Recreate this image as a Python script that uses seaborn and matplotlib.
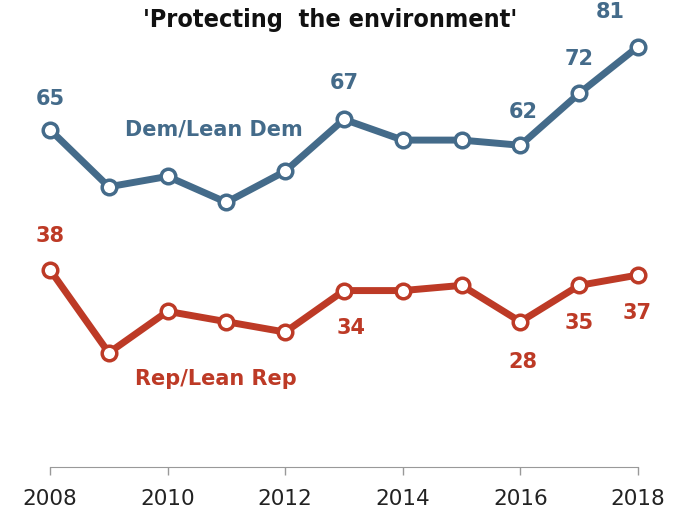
import pandas as pd
import matplotlib.pyplot as plt
import seaborn as sns

years = [2008, 2009, 2010, 2011, 2012, 2013, 2014, 2015, 2016, 2017, 2018]
dem = [65, 54, 56, 51, 57, 67, 63, 63, 62, 72, 81]
rep = [38, 22, 30, 28, 26, 34, 34, 35, 28, 35, 37]

dem_labels = {2008: '65', 2013: '67', 2016: '62', 2017: '72', 2018: '81'}
rep_labels = {2008: '38', 2013: '34', 2016: '28', 2017: '35', 2018: '37'}

DEM_COLOR = '#446b8a'
REP_COLOR = '#bd3a26'

df = pd.DataFrame({'year': years * 2,
                   'value': dem + rep,
                   'party': ['Dem'] * len(years) + ['Rep'] * len(years)})

sns.set_style('white')
plt.rcParams['font.family'] = ['DejaVu Sans']

fig = plt.figure(figsize=(6.79, 5.15), dpi=100)
ax = fig.add_axes([50 / 679, 48 / 515, 588 / 679, 467 / 515])

sns.lineplot(data=df, x='year', y='value', hue='party',
             palette={'Dem': DEM_COLOR, 'Rep': REP_COLOR},
             linewidth=5, marker='o', markersize=10.5, markerfacecolor='white',
             markeredgewidth=2.5, legend=False, ax=ax, clip_on=False)
for line, c in zip(ax.lines, [DEM_COLOR, REP_COLOR]):
    line.set_markeredgecolor(c)

ax.set_xlim(2008, 2018)
ax.set_ylim(0, 90)
ax.set_xlabel('')
ax.set_ylabel('')
ax.set_yticks([])
ax.set_xticks([2008, 2010, 2012, 2014, 2016, 2018])
ax.tick_params(axis='x', bottom=True, direction='out', length=6, width=1,
               color='#999999', labelsize=15.5, pad=10, labelcolor='#222222')
sns.despine(ax=ax, left=True)
ax.spines['bottom'].set_color('#999999')

# value labels (offsets in points)
dem_off = {2008: (0, 22), 2013: (0, 26), 2016: (2, 24), 2017: (0, 25), 2018: (-20, 25)}
rep_off = {2008: (0, 24), 2013: (5, -27), 2016: (2, -29), 2017: (0, -27), 2018: (-1, -27)}
val = dict(zip(years, dem))
for yr, t in dem_labels.items():
    ax.annotate(t, (yr, val[yr]), xytext=dem_off[yr], textcoords='offset points',
                ha='center', va='center', color=DEM_COLOR, fontsize=15,
                fontweight='bold')
val = dict(zip(years, rep))
for yr, t in rep_labels.items():
    ax.annotate(t, (yr, val[yr]), xytext=rep_off[yr], textcoords='offset points',
                ha='center', va='center', color=REP_COLOR, fontsize=15,
                fontweight='bold')

ax.text(2010.79, 65, 'Dem/Lean Dem', ha='center', va='center', color=DEM_COLOR,
        fontsize=15, fontweight='bold')
ax.text(2010.82, 17, 'Rep/Lean Rep', ha='center', va='center', color=REP_COLOR,
        fontsize=15, fontweight='bold')
fig.text(330 / 679, 1 - 20 / 515, "'Protecting  the environment'", ha='center',
         va='center', fontsize=18, fontweight='bold', fontstretch='condensed',
         color='#111111')

fig.savefig('out.png', dpi=100)
